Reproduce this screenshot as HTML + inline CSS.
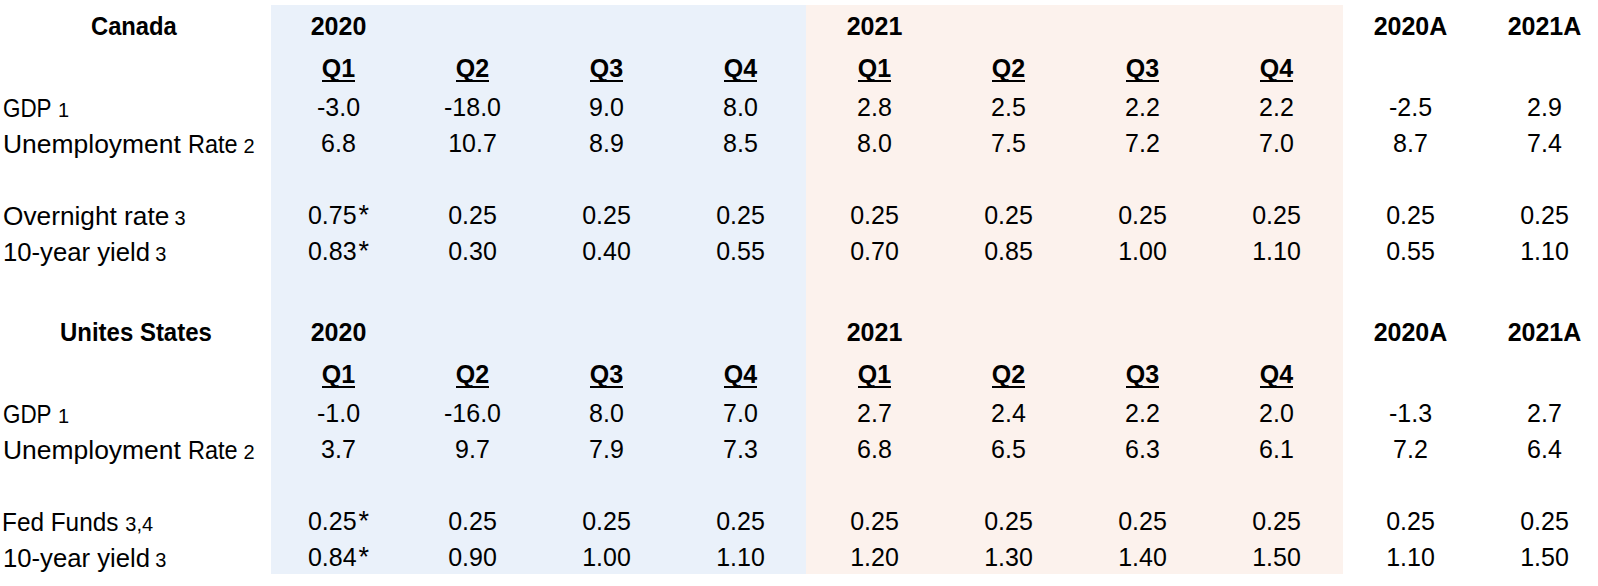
<!DOCTYPE html>
<html><head><meta charset="utf-8"><style>
html,body{margin:0;padding:0;background:#fff;width:1598px;height:586px;overflow:hidden}
body{position:relative;font-family:"Liberation Sans",sans-serif;color:#000}
.t{position:absolute;white-space:nowrap;transform-origin:0 0}
.c{position:absolute;width:134px;text-align:center;white-space:nowrap}
.r{font-size:25px;line-height:25px}
.b{font-weight:700;font-size:25px;line-height:25px}
.s{font-size:20px;line-height:20px}
.u{position:absolute;height:2px;background:#000}
.a{margin-left:2px;font-size:27px}
</style></head><body>
<div style="position:absolute;left:271px;top:5px;width:535px;height:569px;background:#eaf1fa"></div>
<div style="position:absolute;left:806px;top:5px;width:537px;height:569px;background:#fcf2ed"></div>

<div class="t b" style="left:91.45px;top:14px;transform:scaleX(0.9500);">Canada</div>
<div class="t r" style="left:3.10px;top:96px;transform:scaleX(0.8964);">GDP</div>
<div class="t s" style="left:58.10px;top:100px;">1</div>
<div class="t r" style="left:2.60px;top:132px;transform:scaleX(1.0579);">Unemployment</div>
<div class="t r" style="left:187.51px;top:132px;transform:scaleX(0.9392);">Rate</div>
<div class="t s" style="left:243.60px;top:136px;">2</div>
<div class="t r" style="left:3.12px;top:204px;transform:scaleX(1.0501);">Overnight rate</div>
<div class="t s" style="left:174.60px;top:208px;">3</div>
<div class="t r" style="left:2.64px;top:240px;transform:scaleX(1.0274);">10-year yield</div>
<div class="t s" style="left:155.30px;top:244px;">3</div>
<div class="t b" style="left:60.15px;top:320px;transform:scaleX(0.9586);">Unites States</div>
<div class="t r" style="left:3.10px;top:402px;transform:scaleX(0.8964);">GDP</div>
<div class="t s" style="left:58.10px;top:406px;">1</div>
<div class="t r" style="left:2.60px;top:438px;transform:scaleX(1.0579);">Unemployment</div>
<div class="t r" style="left:187.51px;top:438px;transform:scaleX(0.9392);">Rate</div>
<div class="t s" style="left:243.60px;top:442px;">2</div>
<div class="t r" style="left:2.46px;top:510px;transform:scaleX(0.9743);">Fed Funds</div>
<div class="t s" style="left:125.30px;top:514px;">3,4</div>
<div class="t r" style="left:2.64px;top:546px;transform:scaleX(1.0274);">10-year yield</div>
<div class="t s" style="left:155.30px;top:550px;">3</div>
<div class="c b" style="left:271.5px;top:14px">2020</div>
<div class="c b" style="left:807.5px;top:14px">2021</div>
<div class="c b" style="left:1343.5px;top:14px">2020A</div>
<div class="c b" style="left:1477.5px;top:14px">2021A</div>
<div class="c b" style="left:271.5px;top:56px">Q1</div>
<div class="u" style="left:322.0px;top:80px;width:33px"></div>
<div class="c b" style="left:405.5px;top:56px">Q2</div>
<div class="u" style="left:456.0px;top:80px;width:33px"></div>
<div class="c b" style="left:539.5px;top:56px">Q3</div>
<div class="u" style="left:590.0px;top:80px;width:33px"></div>
<div class="c b" style="left:673.5px;top:56px">Q4</div>
<div class="u" style="left:724.0px;top:80px;width:33px"></div>
<div class="c b" style="left:807.5px;top:56px">Q1</div>
<div class="u" style="left:858.0px;top:80px;width:33px"></div>
<div class="c b" style="left:941.5px;top:56px">Q2</div>
<div class="u" style="left:992.0px;top:80px;width:33px"></div>
<div class="c b" style="left:1075.5px;top:56px">Q3</div>
<div class="u" style="left:1126.0px;top:80px;width:33px"></div>
<div class="c b" style="left:1209.5px;top:56px">Q4</div>
<div class="u" style="left:1260.0px;top:80px;width:33px"></div>
<div class="c r" style="left:271.5px;top:95px">-3.0</div>
<div class="c r" style="left:405.5px;top:95px">-18.0</div>
<div class="c r" style="left:539.5px;top:95px">9.0</div>
<div class="c r" style="left:673.5px;top:95px">8.0</div>
<div class="c r" style="left:807.5px;top:95px">2.8</div>
<div class="c r" style="left:941.5px;top:95px">2.5</div>
<div class="c r" style="left:1075.5px;top:95px">2.2</div>
<div class="c r" style="left:1209.5px;top:95px">2.2</div>
<div class="c r" style="left:1343.5px;top:95px">-2.5</div>
<div class="c r" style="left:1477.5px;top:95px">2.9</div>
<div class="c r" style="left:271.5px;top:131px">6.8</div>
<div class="c r" style="left:405.5px;top:131px">10.7</div>
<div class="c r" style="left:539.5px;top:131px">8.9</div>
<div class="c r" style="left:673.5px;top:131px">8.5</div>
<div class="c r" style="left:807.5px;top:131px">8.0</div>
<div class="c r" style="left:941.5px;top:131px">7.5</div>
<div class="c r" style="left:1075.5px;top:131px">7.2</div>
<div class="c r" style="left:1209.5px;top:131px">7.0</div>
<div class="c r" style="left:1343.5px;top:131px">8.7</div>
<div class="c r" style="left:1477.5px;top:131px">7.4</div>
<div class="c r" style="left:271.5px;top:203px">0.75<span class="a">*</span></div>
<div class="c r" style="left:405.5px;top:203px">0.25</div>
<div class="c r" style="left:539.5px;top:203px">0.25</div>
<div class="c r" style="left:673.5px;top:203px">0.25</div>
<div class="c r" style="left:807.5px;top:203px">0.25</div>
<div class="c r" style="left:941.5px;top:203px">0.25</div>
<div class="c r" style="left:1075.5px;top:203px">0.25</div>
<div class="c r" style="left:1209.5px;top:203px">0.25</div>
<div class="c r" style="left:1343.5px;top:203px">0.25</div>
<div class="c r" style="left:1477.5px;top:203px">0.25</div>
<div class="c r" style="left:271.5px;top:239px">0.83<span class="a">*</span></div>
<div class="c r" style="left:405.5px;top:239px">0.30</div>
<div class="c r" style="left:539.5px;top:239px">0.40</div>
<div class="c r" style="left:673.5px;top:239px">0.55</div>
<div class="c r" style="left:807.5px;top:239px">0.70</div>
<div class="c r" style="left:941.5px;top:239px">0.85</div>
<div class="c r" style="left:1075.5px;top:239px">1.00</div>
<div class="c r" style="left:1209.5px;top:239px">1.10</div>
<div class="c r" style="left:1343.5px;top:239px">0.55</div>
<div class="c r" style="left:1477.5px;top:239px">1.10</div>
<div class="c b" style="left:271.5px;top:320px">2020</div>
<div class="c b" style="left:807.5px;top:320px">2021</div>
<div class="c b" style="left:1343.5px;top:320px">2020A</div>
<div class="c b" style="left:1477.5px;top:320px">2021A</div>
<div class="c b" style="left:271.5px;top:362px">Q1</div>
<div class="u" style="left:322.0px;top:386px;width:33px"></div>
<div class="c b" style="left:405.5px;top:362px">Q2</div>
<div class="u" style="left:456.0px;top:386px;width:33px"></div>
<div class="c b" style="left:539.5px;top:362px">Q3</div>
<div class="u" style="left:590.0px;top:386px;width:33px"></div>
<div class="c b" style="left:673.5px;top:362px">Q4</div>
<div class="u" style="left:724.0px;top:386px;width:33px"></div>
<div class="c b" style="left:807.5px;top:362px">Q1</div>
<div class="u" style="left:858.0px;top:386px;width:33px"></div>
<div class="c b" style="left:941.5px;top:362px">Q2</div>
<div class="u" style="left:992.0px;top:386px;width:33px"></div>
<div class="c b" style="left:1075.5px;top:362px">Q3</div>
<div class="u" style="left:1126.0px;top:386px;width:33px"></div>
<div class="c b" style="left:1209.5px;top:362px">Q4</div>
<div class="u" style="left:1260.0px;top:386px;width:33px"></div>
<div class="c r" style="left:271.5px;top:401px">-1.0</div>
<div class="c r" style="left:405.5px;top:401px">-16.0</div>
<div class="c r" style="left:539.5px;top:401px">8.0</div>
<div class="c r" style="left:673.5px;top:401px">7.0</div>
<div class="c r" style="left:807.5px;top:401px">2.7</div>
<div class="c r" style="left:941.5px;top:401px">2.4</div>
<div class="c r" style="left:1075.5px;top:401px">2.2</div>
<div class="c r" style="left:1209.5px;top:401px">2.0</div>
<div class="c r" style="left:1343.5px;top:401px">-1.3</div>
<div class="c r" style="left:1477.5px;top:401px">2.7</div>
<div class="c r" style="left:271.5px;top:437px">3.7</div>
<div class="c r" style="left:405.5px;top:437px">9.7</div>
<div class="c r" style="left:539.5px;top:437px">7.9</div>
<div class="c r" style="left:673.5px;top:437px">7.3</div>
<div class="c r" style="left:807.5px;top:437px">6.8</div>
<div class="c r" style="left:941.5px;top:437px">6.5</div>
<div class="c r" style="left:1075.5px;top:437px">6.3</div>
<div class="c r" style="left:1209.5px;top:437px">6.1</div>
<div class="c r" style="left:1343.5px;top:437px">7.2</div>
<div class="c r" style="left:1477.5px;top:437px">6.4</div>
<div class="c r" style="left:271.5px;top:509px">0.25<span class="a">*</span></div>
<div class="c r" style="left:405.5px;top:509px">0.25</div>
<div class="c r" style="left:539.5px;top:509px">0.25</div>
<div class="c r" style="left:673.5px;top:509px">0.25</div>
<div class="c r" style="left:807.5px;top:509px">0.25</div>
<div class="c r" style="left:941.5px;top:509px">0.25</div>
<div class="c r" style="left:1075.5px;top:509px">0.25</div>
<div class="c r" style="left:1209.5px;top:509px">0.25</div>
<div class="c r" style="left:1343.5px;top:509px">0.25</div>
<div class="c r" style="left:1477.5px;top:509px">0.25</div>
<div class="c r" style="left:271.5px;top:545px">0.84<span class="a">*</span></div>
<div class="c r" style="left:405.5px;top:545px">0.90</div>
<div class="c r" style="left:539.5px;top:545px">1.00</div>
<div class="c r" style="left:673.5px;top:545px">1.10</div>
<div class="c r" style="left:807.5px;top:545px">1.20</div>
<div class="c r" style="left:941.5px;top:545px">1.30</div>
<div class="c r" style="left:1075.5px;top:545px">1.40</div>
<div class="c r" style="left:1209.5px;top:545px">1.50</div>
<div class="c r" style="left:1343.5px;top:545px">1.10</div>
<div class="c r" style="left:1477.5px;top:545px">1.50</div>
</body></html>
